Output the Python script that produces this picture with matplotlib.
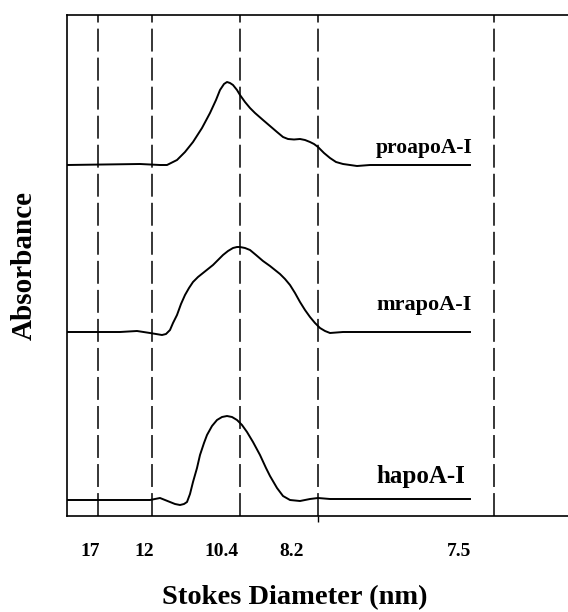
import matplotlib.pyplot as plt

plt.rcParams["font.family"] = ["Liberation Serif", "DejaVu Serif"]
plt.rcParams["font.weight"] = "bold"

# elution position (arbitrary units) of the Stokes diameter markers
marker_pos = [31, 85, 173, 251, 427]
marker_labels = ["17", "12", "10.4", "8.2", "7.5"]
label_pos = [23, 77, 155, 225, 392]

# traces: position, absorbance above baseline
pro_x = [0, 73, 93, 100, 110, 118, 126, 135, 143, 149, 153, 157, 160, 163, 166,
         170, 173, 178, 183, 188, 196, 203, 210, 216, 221, 227, 233, 238, 243,
         247, 251, 257, 263, 269, 276, 290, 303, 403]
pro_y = [0, 1, 0, 0, 5, 13, 23, 37, 52, 65, 75, 81, 83, 82, 80, 75, 70, 63,
         57, 52, 45, 39, 33, 28, 26, 25.5, 26, 25, 23, 21, 18, 12, 7, 3, 1,
         -1, 0, 0]

mr_x = [0, 53, 70, 83, 89, 95, 99, 103, 106, 110, 114, 118, 122, 126, 131,
        136, 141, 146, 151, 156, 161, 166, 170, 173, 178, 183, 189, 196, 203,
        213, 218, 223, 228, 233, 238, 243, 248, 253, 258, 263, 276, 296, 403]
mr_y = [0, 0, 1, -1, -2, -3, -2, 2, 9, 17, 28, 37, 44, 50, 55, 59, 63, 67,
        72, 77, 81, 84, 85, 85, 84, 82, 77, 71, 66, 58, 53, 47, 39, 30, 22,
        15, 9, 4, 1, -1, 0, 0, 0]

h_x = [0, 83, 88, 93, 98, 103, 108, 113, 117, 120, 123, 126, 130, 133, 137,
       140, 145, 150, 155, 160, 165, 170, 175, 180, 186, 193, 199, 203, 210,
       216, 223, 233, 243, 251, 263, 403]
h_y = [0, 0, 1, 2, 0, -2, -4, -5, -4, -2, 6, 18, 32, 45, 57, 65, 74, 80, 83,
       84, 83, 80, 75, 68, 58, 45, 32, 24, 12, 4, 0, -1, 1, 2, 1, 1]

traces = [
    ("proapoA-I", pro_x, pro_y, 351, 368, 15.5),
    ("mrapoA-I", mr_x, mr_y, 184, 211, 16),
    ("hapoA-I", h_x, h_y, 16, 39, 18),
]
text_x = 309

fig = plt.figure(figsize=(5.68, 6.12), dpi=100)
ax = fig.add_axes([67 / 568, 96 / 612, 533 / 568, 501 / 612])

for name, xs, ys, base, ty, fs in traces:
    ax.plot(xs, [base + v for v in ys], color="black", lw=1.4)
    ax.text(text_x, ty, name, fontsize=fs, fontweight="bold", va="center", ha="left")

for xp in marker_pos:
    ax.axvline(xp, color="black", lw=1.1, dashes=(15, 4))

ax.set_xlim(0, 533)
ax.set_ylim(0, 501)
ax.spines["right"].set_visible(False)
for side in ["left", "top", "bottom"]:
    ax.spines[side].set_linewidth(1.2)

ax.set_yticks([])
ax.set_xticks(label_pos, marker_labels, fontsize=14, fontweight="bold")
ax.tick_params(axis="x", which="major", length=0, pad=19.5)
ax.set_xticks([marker_pos[3]], minor=True)
ax.tick_params(axis="x", which="minor", length=4, width=1, direction="out")

fig.text(295 / 568, 1 - 598 / 612, "Stokes Diameter (nm)", fontsize=20.5,
         fontweight="bold", ha="center", va="center")
fig.text(24 / 568, 1 - 265 / 612, "Absorbance", fontsize=21, fontweight="bold",
         ha="center", va="center", rotation=90)

fig.savefig("out.png", dpi=100)
